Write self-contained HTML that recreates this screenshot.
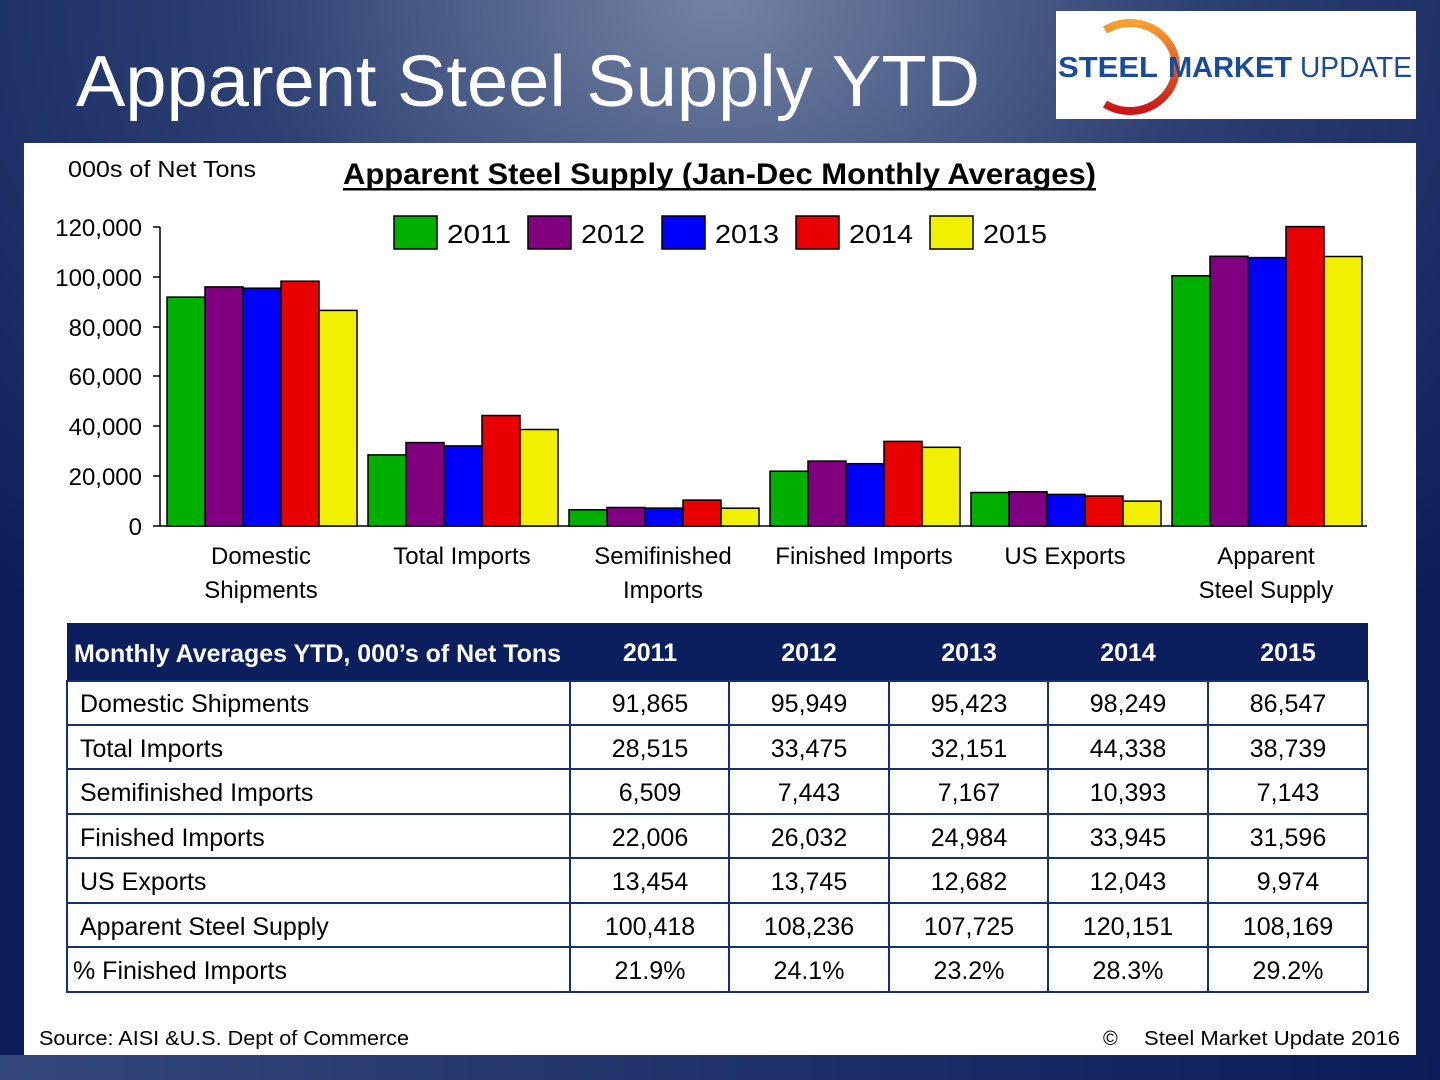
<!DOCTYPE html>
<html><head><meta charset="utf-8"><style>
html,body{margin:0;padding:0;width:1440px;height:1080px;overflow:hidden}
svg{display:block;font-family:"Liberation Sans",sans-serif}
</style></head><body>
<svg width="1440" height="1080" viewBox="0 0 1440 1080" xmlns="http://www.w3.org/2000/svg">
<defs>
<radialGradient id="bg" cx="0.5" cy="0" r="0.75">
<stop offset="0" stop-color="#7483a3"/><stop offset="0.45" stop-color="#2c3f72"/><stop offset="1" stop-color="#0b1d58"/>
</radialGradient>
<linearGradient id="bot" x1="0" x2="1"><stop offset="0" stop-color="#34477a"/><stop offset="1" stop-color="#0b1d58"/></linearGradient>
<linearGradient id="arc" x1="0" y1="0" x2="0" y2="1"><stop offset="0" stop-color="#f7a030"/><stop offset="1" stop-color="#c81818"/></linearGradient>
</defs>
<rect width="1440" height="1080" fill="url(#bg)"/>
<rect y="1055" width="1440" height="25" fill="url(#bot)"/>
<text x="76" y="106" font-size="72" fill="#fff" textLength="904" lengthAdjust="spacingAndGlyphs">Apparent Steel Supply YTD</text>
<rect x="1056" y="11" width="360" height="108" fill="#fff"/>
<path d="M1105 30 A46 44 0 1 1 1105 104" fill="none" stroke="url(#arc)" stroke-width="8"/>
<text x="1058" y="77" font-size="29" font-weight="bold" fill="#1a4a9a" textLength="100" lengthAdjust="spacingAndGlyphs">STEEL</text>
<text x="1168" y="77" font-size="29" font-weight="bold" fill="#1a4a9a" textLength="124" lengthAdjust="spacingAndGlyphs">MARKET</text>
<text x="1300" y="77" font-size="29" fill="#1a4a9a" textLength="112" lengthAdjust="spacingAndGlyphs">UPDATE</text>
<rect x="24" y="143" width="1392" height="912" fill="#fff"/>
<text x="68" y="177" font-size="23" fill="#000" textLength="188" lengthAdjust="spacingAndGlyphs">000s of Net Tons</text>
<text x="343" y="184" font-size="30" font-weight="bold" fill="#000" textLength="753" lengthAdjust="spacingAndGlyphs">Apparent Steel Supply (Jan-Dec Monthly Averages)</text>
<rect x="343" y="188" width="753" height="2.5" fill="#000"/>
<g font-size="26" fill="#000">
<rect x="394" y="216" width="43" height="33" fill="#00b000" stroke="#000" stroke-width="1.5"/><text x="447" y="243" textLength="64" lengthAdjust="spacingAndGlyphs">2011</text>
<rect x="528" y="216" width="43" height="33" fill="#800080" stroke="#000" stroke-width="1.5"/><text x="581" y="243" textLength="64" lengthAdjust="spacingAndGlyphs">2012</text>
<rect x="662" y="216" width="43" height="33" fill="#0000ff" stroke="#000" stroke-width="1.5"/><text x="715" y="243" textLength="64" lengthAdjust="spacingAndGlyphs">2013</text>
<rect x="796" y="216" width="43" height="33" fill="#e80000" stroke="#000" stroke-width="1.5"/><text x="849" y="243" textLength="64" lengthAdjust="spacingAndGlyphs">2014</text>
<rect x="930" y="216" width="43" height="33" fill="#f0f000" stroke="#000" stroke-width="1.5"/><text x="983" y="243" textLength="64" lengthAdjust="spacingAndGlyphs">2015</text>
</g>
<g font-size="24" fill="#000" text-anchor="end">
<text x="142" y="236">120,000</text><text x="142" y="286">100,000</text><text x="142" y="336">80,000</text>
<text x="142" y="385">60,000</text><text x="142" y="435">40,000</text><text x="142" y="485">20,000</text><text x="142" y="535">0</text>
</g>
<g stroke="#000" stroke-width="1.5">
<line x1="160" y1="227" x2="160" y2="526"/><line x1="160" y1="526" x2="1367" y2="526"/>
<line x1="153" y1="227" x2="160" y2="227"/><line x1="153" y1="277" x2="160" y2="277"/><line x1="153" y1="327" x2="160" y2="327"/>
<line x1="153" y1="376" x2="160" y2="376"/><line x1="153" y1="426" x2="160" y2="426"/><line x1="153" y1="476" x2="160" y2="476"/><line x1="153" y1="526" x2="160" y2="526"/>
</g>
<g stroke="#000" stroke-width="1.5">
<rect x="167" y="297.1" width="38" height="228.9" fill="#00b000"/><rect x="205" y="286.9" width="38" height="239.1" fill="#800080"/><rect x="243" y="288.2" width="38" height="237.8" fill="#0000ff"/><rect x="281" y="281.2" width="38" height="244.8" fill="#e80000"/><rect x="319" y="310.4" width="38" height="215.6" fill="#f0f000"/>
<rect x="368" y="454.9" width="38" height="71.1" fill="#00b000"/><rect x="406" y="442.6" width="38" height="83.4" fill="#800080"/><rect x="444" y="445.9" width="38" height="80.1" fill="#0000ff"/><rect x="482" y="415.5" width="38" height="110.5" fill="#e80000"/><rect x="520" y="429.5" width="38" height="96.5" fill="#f0f000"/>
<rect x="569" y="509.8" width="38" height="16.2" fill="#00b000"/><rect x="607" y="507.5" width="38" height="18.5" fill="#800080"/><rect x="645" y="508.1" width="38" height="17.9" fill="#0000ff"/><rect x="683" y="500.1" width="38" height="25.9" fill="#e80000"/><rect x="721" y="508.2" width="38" height="17.8" fill="#f0f000"/>
<rect x="770" y="471.2" width="38" height="54.8" fill="#00b000"/><rect x="808" y="461.1" width="38" height="64.9" fill="#800080"/><rect x="846" y="463.7" width="38" height="62.3" fill="#0000ff"/><rect x="884" y="441.4" width="38" height="84.6" fill="#e80000"/><rect x="922" y="447.3" width="38" height="78.7" fill="#f0f000"/>
<rect x="971" y="492.5" width="38" height="33.5" fill="#00b000"/><rect x="1009" y="491.8" width="38" height="34.2" fill="#800080"/><rect x="1047" y="494.4" width="38" height="31.6" fill="#0000ff"/><rect x="1085" y="496" width="38" height="30" fill="#e80000"/><rect x="1123" y="501.1" width="38" height="24.9" fill="#f0f000"/>
<rect x="1172" y="275.8" width="38" height="250.2" fill="#00b000"/><rect x="1210" y="256.3" width="38" height="269.7" fill="#800080"/><rect x="1248" y="257.6" width="38" height="268.4" fill="#0000ff"/><rect x="1286" y="226.6" width="38" height="299.4" fill="#e80000"/><rect x="1324" y="256.5" width="38" height="269.5" fill="#f0f000"/>
</g>
<g font-size="24" fill="#000" text-anchor="middle">
<text x="261" y="564">Domestic</text><text x="261" y="598">Shipments</text>
<text x="462" y="564">Total Imports</text>
<text x="663" y="564">Semifinished</text><text x="663" y="598">Imports</text>
<text x="864" y="564">Finished Imports</text>
<text x="1065" y="564">US Exports</text>
<text x="1266" y="564">Apparent</text><text x="1266" y="598">Steel Supply</text>
</g>
<rect x="67" y="623" width="1301" height="58" fill="#0b1f5e"/>
<g font-size="25" font-weight="bold" fill="#fff">
<text x="74" y="662" textLength="487" lengthAdjust="spacingAndGlyphs">Monthly Averages YTD, 000’s of Net Tons</text>
<g text-anchor="middle"><text x="650" y="661">2011</text><text x="809" y="661">2012</text><text x="969" y="661">2013</text><text x="1128" y="661">2014</text><text x="1288" y="661">2015</text></g>
</g>
<g stroke="#1a2f6e" stroke-width="2" fill="none">
<rect x="67" y="681" width="1301" height="311"/>
<line x1="67" y1="725" x2="1368" y2="725"/><line x1="67" y1="769" x2="1368" y2="769"/><line x1="67" y1="814" x2="1368" y2="814"/>
<line x1="67" y1="858" x2="1368" y2="858"/><line x1="67" y1="903" x2="1368" y2="903"/><line x1="67" y1="947" x2="1368" y2="947"/>
<line x1="570" y1="681" x2="570" y2="992"/><line x1="729" y1="681" x2="729" y2="992"/><line x1="889" y1="681" x2="889" y2="992"/><line x1="1048" y1="681" x2="1048" y2="992"/><line x1="1208" y1="681" x2="1208" y2="992"/>
</g>
<g font-size="25" fill="#000">
<text x="80" y="712">Domestic Shipments</text><text x="80" y="757">Total Imports</text><text x="80" y="801">Semifinished Imports</text>
<text x="80" y="846">Finished Imports</text><text x="80" y="890">US Exports</text><text x="80" y="935">Apparent Steel Supply</text><text x="73" y="979">% Finished Imports</text>
<g text-anchor="middle">
<text x="650" y="712">91,865</text><text x="809" y="712">95,949</text><text x="969" y="712">95,423</text><text x="1128" y="712">98,249</text><text x="1288" y="712">86,547</text>
<text x="650" y="757">28,515</text><text x="809" y="757">33,475</text><text x="969" y="757">32,151</text><text x="1128" y="757">44,338</text><text x="1288" y="757">38,739</text>
<text x="650" y="801">6,509</text><text x="809" y="801">7,443</text><text x="969" y="801">7,167</text><text x="1128" y="801">10,393</text><text x="1288" y="801">7,143</text>
<text x="650" y="846">22,006</text><text x="809" y="846">26,032</text><text x="969" y="846">24,984</text><text x="1128" y="846">33,945</text><text x="1288" y="846">31,596</text>
<text x="650" y="890">13,454</text><text x="809" y="890">13,745</text><text x="969" y="890">12,682</text><text x="1128" y="890">12,043</text><text x="1288" y="890">9,974</text>
<text x="650" y="935">100,418</text><text x="809" y="935">108,236</text><text x="969" y="935">107,725</text><text x="1128" y="935">120,151</text><text x="1288" y="935">108,169</text>
<text x="650" y="979">21.9%</text><text x="809" y="979">24.1%</text><text x="969" y="979">23.2%</text><text x="1128" y="979">28.3%</text><text x="1288" y="979">29.2%</text>
</g>
</g>
<g font-size="20" fill="#000">
<text x="39" y="1045" textLength="370" lengthAdjust="spacingAndGlyphs">Source:  AISI &amp;U.S. Dept of Commerce</text>
<text x="1103" y="1045">©</text><text x="1144" y="1045" textLength="256" lengthAdjust="spacingAndGlyphs">Steel Market Update 2016</text>
</g>
</svg>
</body></html>
